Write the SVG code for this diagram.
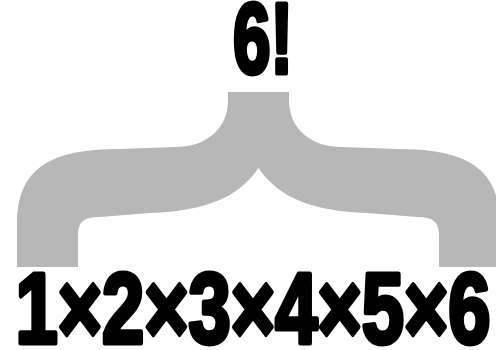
<svg xmlns="http://www.w3.org/2000/svg" width="496" height="350" viewBox="0 0 496 350">
  <style>
    .big { font-family: "Liberation Sans", Arial, sans-serif; font-weight: bold; fill: #000; stroke: #000; stroke-width: 5; stroke-linejoin: round; }
    .brace { fill: #b7b7b7; stroke: none; }
  </style>
  <rect width="496" height="350" fill="#fff"/>
  <g id="connectors">
    <path class="brace" d="M 228,92 L 228,100 C 228,130 205,147 175,147 L 120,149 C 50,149 17,168 17,225 L 17,267 L 78,267 L 78,235 C 78,222 84,217 100,217 L 150,213 C 205,211 238,198 258.5,168 C 279,198 312,211 367,213 L 417,217 C 433,217 439,222 439,235 L 439,267 L 500,267 L 500,225 C 500,168 467,149 397,149 L 342,147 C 312,147 289,130 289,100 L 289,92 Z"/>
  </g>
  <g id="factorial">
    <text class="big" x="233" y="73" font-size="100" textLength="60" lengthAdjust="spacingAndGlyphs">6!</text>
  </g>
  <g id="product">
    <text class="big" x="15.5" y="343" font-size="100" textLength="475" lengthAdjust="spacingAndGlyphs">1×2×3×4×5×6</text>
  </g>
</svg>
